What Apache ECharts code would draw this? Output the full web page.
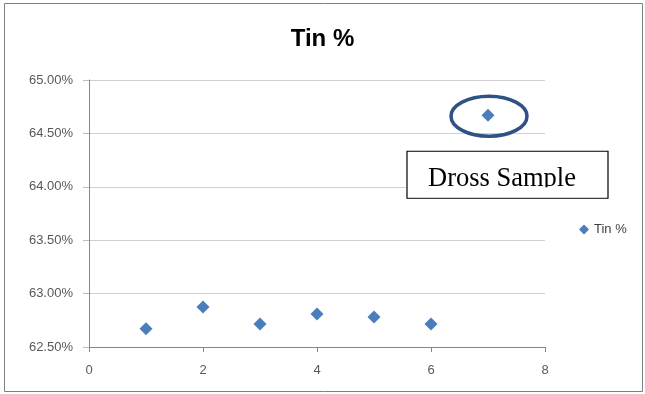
<!DOCTYPE html>
<html><head><meta charset="utf-8">
<script src="https://cdn.jsdelivr.net/npm/echarts@6/dist/echarts.min.js"></script>
<style>html,body{margin:0;padding:0;background:#fff}#c{width:645px;height:394px}</style>
</head><body><div id="c"></div>
<script>
const sampleX = [1, 2, 3, 4, 5, 6, 7];
const tinPct = [62.67, 62.875, 62.715, 62.81, 62.78, 62.715, 64.67];
const seriesName = 'Tin %';
const titleText = 'Tin %';
const noteText = 'Dross Sample';
const highlightIndex = 6;

const chart = echarts.init(document.getElementById('c'));
const axisColor = '#595959';
chart.setOption({
  animation: false,
  title: { text: titleText, left: 'center', top: 22,
    textStyle: { fontFamily: 'Liberation Sans', fontSize: 24, fontWeight: 'bold', color: '#000' } },
  legend: { orient: 'vertical', left: 574, top: 218, itemWidth: 10, itemHeight: 10, itemGap: 4,
    textStyle: { fontFamily: 'Liberation Sans', fontSize: 13, color: '#404040' },
    data: [{ name: seriesName, icon: 'diamond' }] },
  grid: { left: 89, right: 100, top: 80, bottom: 47 },
  xAxis: { type: 'value', min: 0, max: 8, interval: 2,
    axisLine: { show: true, lineStyle: { color: '#868686' } },
    axisTick: { show: true, length: 5, lineStyle: { color: '#868686' } },
    splitLine: { show: false },
    axisLabel: { fontFamily: 'Liberation Sans', fontSize: 13, color: axisColor, margin: 17 } },
  yAxis: { type: 'value', min: 62.5, max: 65, interval: 0.5,
    axisLine: { show: true, lineStyle: { color: '#868686' } },
    axisTick: { show: true, length: 6, lineStyle: { color: '#bcbcbc' } },
    splitLine: { show: true, lineStyle: { color: '#d0d0d0', width: 1 } },
    axisLabel: { fontFamily: 'Liberation Sans', fontSize: 13, color: axisColor, margin: 16,
      formatter: v => v.toFixed(2) + '%' } },
  series: [{ name: seriesName, type: 'scatter', symbol: 'diamond', symbolSize: 13,
    itemStyle: { color: '#4a7ebb', opacity: 1 },
    data: sampleX.map((x, i) => [x, tinPct[i]]) }]
});

const p = chart.convertToPixel({ gridIndex: 0 }, [sampleX[highlightIndex], tinPct[highlightIndex]]);
chart.setOption({
  graphic: [
    { type: 'rect', shape: { x: 0, y: 0, width: 638, height: 388 }, position: [4.5, 3.5],
      style: { fill: null, stroke: '#7f7f7f', lineWidth: 1 }, z: -1 },
    { type: 'ellipse', shape: { cx: p[0] + 1, cy: p[1] + 1, rx: 38, ry: 20 },
      style: { fill: null, stroke: '#2f5286', lineWidth: 3.5 } },
    { type: 'rect', shape: { x: p[0] - 81, y: p[1] + 36, width: 201, height: 47 },
      style: { fill: '#fff', stroke: '#000', lineWidth: 1.2 }, z: 10 },
    { type: 'text', x: p[0] - 60, y: p[1] + 50, z: 11,
      style: { text: noteText, fontFamily: 'Liberation Serif', fontSize: 26.5, fill: '#000' } },
    { type: 'rect', shape: { x: p[0] - 79, y: p[1] + 72, width: 197, height: 10 }, z: 12,
      style: { fill: '#fff' } }
  ]
});
</script></body></html>
